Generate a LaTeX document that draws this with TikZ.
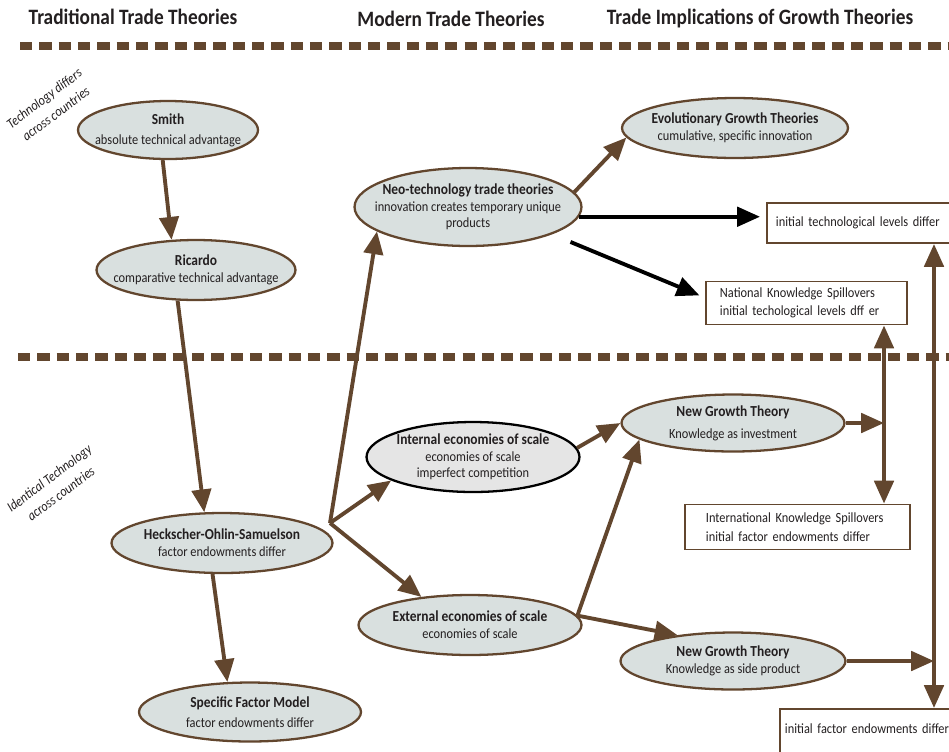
\documentclass[tikz,border=0pt]{standalone}
\usepackage{fontspec}
\setmainfont{Carlito}[FakeStretch=0.88]
\usetikzlibrary{shapes.geometric,arrows.meta}
\definecolor{bark}{RGB}{98,70,46}
\definecolor{sage}{RGB}{217,224,223}
\definecolor{mist}{RGB}{229,229,229}
\definecolor{ink}{RGB}{35,31,32}
\newcommand\ttl[1]{{\fontsize{8.7}{10}\selectfont\bfseries #1}}

\begin{document}
\begin{tikzpicture}[x=0.02cm, y=-0.02cm, >={Triangle[length=13pt,width=11pt]},
    theory/.style={ellipse, draw=bark, line width=1.3pt, fill=sage, inner xsep=-0.5cm, inner ysep=-0.15cm,
        align=center, text=ink, font=\fontsize{8}{9.5}\selectfont},
    plainbox/.style={rectangle, draw=bark, line width=1.1pt, fill=white,
        align=left, text=ink, font=\fontsize{8}{10.5}\selectfont},
    arr/.style={->, draw=bark, line width=2.2pt},
    blackarr/.style={->, draw=black, line width=2.2pt},
    rowsep/.style={draw=bark, line width=4pt, dash pattern=on 7pt off 4pt},
    header/.style={text=ink, font=\fontsize{12.5}{14}\selectfont\bfseries},
    rowlabel/.style={rotate=37, align=center, text=ink, font=\fontsize{8}{11}\selectfont\itshape}]
    \useasboundingbox (0,0) rectangle (949,751);
    \clip (0,0) rectangle (949,751);

    % column heads and row separators
    \node[header] (hdtrad) at (133,17) {Traditional Trade Theories};
    \node[header] (hdmod) at (451,19) {Modern Trade Theories};
    \node[header] (hdgrow) at (760,19) {Trade Implications of Growth Theories};
    \draw[rowsep] (20,46) -- (949,46);
    \draw[rowsep] (18,357) -- (949,357);
    \node[rowlabel] (techdiff) at (50,106) {Technology differs\\across countries};
    \node[rowlabel] (techsame) at (55,486) {Identical Technology\\across countries};

    % traditional theories
    \node[theory, minimum width=3.6cm, minimum height=1.16cm] (smith) at (168,130)
        {\ttl{Smith}\\[2pt]absolute technical advantage};
    \node[theory, minimum width=3.98cm, minimum height=1.2cm] (ricardo) at (196,270)
        {\ttl{Ricardo}\\comparative technical advantage};
    \node[theory, minimum width=4.42cm, minimum height=1.2cm] (hos) at (222,543)
        {\ttl{Heckscher-Ohlin-Samuelson}\\factor endowments differ};
    \node[theory, minimum width=4.44cm, minimum height=1.18cm] (sfm) at (250,712)
        {\ttl{Specific Factor Model}\\[2pt]factor endowments differ};

    % modern theories
    \node[theory, minimum width=4.54cm, minimum height=1.56cm] (neo) at (468,207)
        {\ttl{Neo-technology trade theories}\\innovation creates temporary unique\\products};
    \node[theory, draw=black, fill=mist, minimum width=4.26cm, minimum height=1.4cm] (internal) at (473,457)
        {\ttl{Internal economies of scale}\\economies of scale\\imperfect competition};
    \node[theory, minimum width=4.46cm, minimum height=1.2cm] (external) at (470,625)
        {\ttl{External economies of scale}\\economies of scale};

    % growth theories
    \node[theory, minimum width=4.52cm, minimum height=1.2cm] (evol) at (735,128)
        {\ttl{Evolutionary Growth Theories}\\cumulative, specific innovation};
    \node[theory, minimum width=4.46cm, minimum height=1.14cm] (ngt1) at (733,423)
        {\ttl{New Growth Theory}\\[3pt]Knowledge as investment};
    \node[theory, minimum width=4.5cm, minimum height=1.14cm] (ngt2) at (733,661)
        {\ttl{New Growth Theory}\\Knowledge as side product};

    \node[plainbox, anchor=west, text width=3.8cm, inner xsep=0.18cm, minimum height=0.8cm] (techlev) at (766,223)
        {initial technological levels differ};
    \node[plainbox, anchor=west, text width=3.46cm, inner xsep=0.28cm, minimum height=0.86cm] (national) at (705,303)
        {National Knowledge Spillovers\\initial techological levels dff er};
    \node[plainbox, anchor=west, text width=3.66cm, inner xsep=0.42cm, minimum height=0.9cm] (intl) at (684,527)
        {International Knowledge Spillovers\\initial factor endowments differ};
    \node[plainbox, anchor=north west, text width=3.6cm, inner xsep=0.1cm, inner ysep=0.2cm,
        text height=0.3cm, text depth=1cm] (endow) at (779,708)
        {initial factor endowments differ};

    \coordinate (fork) at (330,523);
    \coordinate (lnkA) at (884,423);
    \coordinate (lnkB) at (934,661);

    % connectors
    \draw[arr] (smith.260) -- (ricardo.129);
    \draw[arr] (ricardo.239) -- (hos.120);
    \draw[arr] (hos.253) -- (sfm.127);
    \draw[arr] (fork) -- (neo.195);
    \draw[arr] (fork) -- (internal.196);
    \draw[arr] (fork) -- (external.150);
    \draw[arr] (neo.8) -- (evol.185);
    \draw[blackarr, shorten >=0.12cm] (neo.355) -- (neo.355 -| techlev.west);
    \draw[blackarr, shorten <=0.4cm, shorten >=0.12cm] (neo.342) -- (national.177);
    \draw[arr] (internal.5) -- (ngt1.west);
    \draw[arr] (external.5) -- (ngt1.190);
    \draw[arr] (external.5) -- (ngt2.155);
    \draw[arr] (ngt1.east) -- (lnkA);
    \draw[arr] (ngt2.east) -- (lnkB);
    \draw[arr, <->] (national.south -| lnkA) -- (intl.north -| lnkA);
    \draw[arr, <->] (techlev.south -| lnkB) -- (endow.north -| lnkB);
\end{tikzpicture}
\end{document}
